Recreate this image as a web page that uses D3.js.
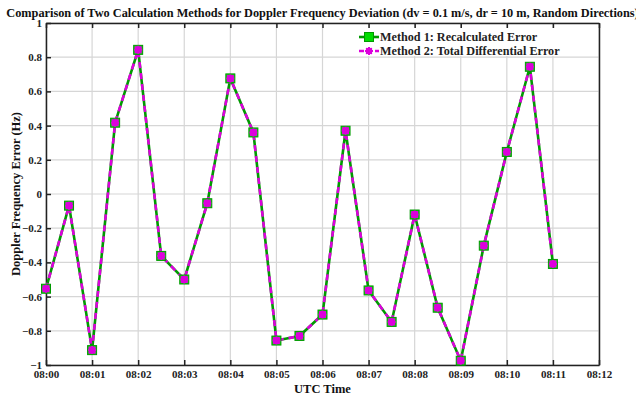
<!DOCTYPE html>
<html>
<head>
<meta charset="utf-8">
<script src="https://cdn.jsdelivr.net/npm/d3@7"></script>
<style>
  body { margin: 0; background: #fff; }
  text { font-family: "Liberation Serif", "Times New Roman", serif; font-weight: bold; }
</style>
</head>
<body>
<div id="chart"></div>
<script>
// ---- Data (seconds after 08:00, error in Hz)
const times = [0, 30, 60, 90, 120, 150, 180, 210, 240, 270, 300, 330, 360, 390, 420, 450, 480, 510, 540, 570, 600, 630, 660];
const method1 = [-0.554, -0.068, -0.913, 0.417, 0.843, -0.362, -0.50, -0.054, 0.676, 0.36, -0.857, -0.83, -0.705, 0.37, -0.564, -0.748, -0.12, -0.665, -0.975, -0.302, 0.246, 0.744, -0.409];
const method2 = method1.slice();
const xTicks = ['08:00', '08:01', '08:02', '08:03', '08:04', '08:05', '08:06', '08:07', '08:08', '08:09', '08:10', '08:11', '08:12'];
const yTicks = [-1, -0.8, -0.6, -0.4, -0.2, 0, 0.2, 0.4, 0.6, 0.8, 1];
const seriesNames = ['Method 1: Recalculated Error', 'Method 2: Total Differential Error'];

const W = 636, H = 395;
const margin = { left: 46, right: 37, top: 23, bottom: 30 };
const width = W - margin.left - margin.right;
const height = H - margin.top - margin.bottom;

const green = '#009900', greenFill = '#00dd00', magenta = '#dd00dd';

const svg = d3.select('#chart').append('svg').attr('width', W).attr('height', H);

const x = d3.scaleLinear().domain([0, 720]).range([0, width]);
const y = d3.scaleLinear().domain([-1, 1]).range([height, 0]);

const g = svg.append('g').attr('transform', `translate(${margin.left},${margin.top})`);

// ---- Grid
g.selectAll('.gx').data(d3.range(0, 721, 60)).join('line')
  .attr('x1', d => x(d)).attr('x2', d => x(d)).attr('y1', 0).attr('y2', height)
  .attr('stroke', '#d6d6d6').attr('stroke-width', 1.2);
g.selectAll('.gy').data(yTicks).join('line')
  .attr('y1', d => y(d)).attr('y2', d => y(d)).attr('x1', 0).attr('x2', width)
  .attr('stroke', '#d6d6d6').attr('stroke-width', 1.2);

// ---- Axes (ticks pointing inward)
const fmtY = d => d === 0 ? '0' : d3.format('')(d);
const xAxis = d3.axisBottom(x).tickValues(d3.range(0, 721, 60))
  .tickFormat((d, i) => xTicks[i]).tickSizeInner(-5).tickSizeOuter(0).tickPadding(5);
const yAxis = d3.axisLeft(y).tickValues(yTicks).tickFormat(fmtY)
  .tickSizeInner(-5).tickSizeOuter(0).tickPadding(4);

const gx = g.append('g').attr('transform', `translate(0,${height})`).call(xAxis);
const gy = g.append('g').call(yAxis);
const gxTop = g.append('g').call(d3.axisTop(x).tickValues(d3.range(0, 721, 60)).tickFormat('').tickSizeInner(-5).tickSizeOuter(0));
const gyRight = g.append('g').attr('transform', `translate(${width},0)`).call(d3.axisRight(y).tickValues(yTicks).tickFormat('').tickSizeInner(0).tickSizeOuter(0));

[gx, gy, gxTop, gyRight].forEach(a => {
  a.select('.domain').attr('stroke', '#222').attr('stroke-width', 1.5);
  a.selectAll('.tick line').attr('stroke', '#222').attr('stroke-width', 1.5);
  a.selectAll('.tick text').attr('fill', '#222').style('font-size', '11px')
    .style('font-family', '"Liberation Serif", serif').style('font-weight', 'bold');
});

// ---- Lines
const line = d3.line().x((d, i) => x(times[i])).y(d => y(d));
g.append('path').datum(method1).attr('d', line)
  .attr('fill', 'none').attr('stroke', green).attr('stroke-width', 2.6);
g.append('path').datum(method2).attr('d', line)
  .attr('fill', 'none').attr('stroke', magenta).attr('stroke-width', 2.6)
  .attr('stroke-dasharray', '6,5');

// ---- Markers
const star = (cx, cy, r) => {
  const a = r * 0.7;
  return `M${cx - r},${cy}L${cx + r},${cy}M${cx},${cy - r}L${cx},${cy + r}` +
    `M${cx - a},${cy - a}L${cx + a},${cy + a}M${cx - a},${cy + a}L${cx + a},${cy - a}`;
};
g.selectAll('.m1').data(method1).join('rect')
  .attr('x', (d, i) => x(times[i]) - 4.5).attr('y', d => y(d) - 4.5)
  .attr('width', 9).attr('height', 9)
  .attr('fill', greenFill).attr('stroke', green).attr('stroke-width', 1);
g.selectAll('.m2b').data(method2).join('rect')
  .attr('x', (d, i) => x(times[i]) - 3.5).attr('y', d => y(d) - 3.5)
  .attr('width', 7).attr('height', 7).attr('fill', magenta);
g.selectAll('.m2').data(method2).join('path')
  .attr('d', (d, i) => star(x(times[i]), y(d), 4))
  .attr('stroke', magenta).attr('stroke-width', 2).attr('fill', 'none');

// ---- Legend
const lg = svg.append('g').attr('transform', 'translate(356,28)');
lg.append('rect').attr('x', 0).attr('y', 0).attr('width', 210).attr('height', 28).attr('fill', '#fff');
seriesNames.forEach((name, i) => {
  const ly = 9 + i * 14;
  lg.append('line').attr('x1', 3).attr('x2', 23).attr('y1', ly).attr('y2', ly)
    .attr('stroke', i === 0 ? green : magenta).attr('stroke-width', 2.6)
    .attr('stroke-dasharray', i === 0 ? null : '5,3');
  if (i === 0) {
    lg.append('rect').attr('x', 8.5).attr('y', ly - 4.5).attr('width', 9).attr('height', 9)
      .attr('fill', greenFill).attr('stroke', green);
  } else {
    lg.append('path').attr('d', star(13, ly, 4)).attr('stroke', magenta).attr('stroke-width', 2);
    lg.append('rect').attr('x', 10).attr('y', ly - 3).attr('width', 6).attr('height', 6).attr('fill', magenta);
  }
  lg.append('text').attr('x', 24).attr('y', ly + 4).attr('fill', '#222')
    .style('font-size', '12.2px').text(name);
});

// ---- Title and axis labels
svg.append('text').attr('x', margin.left + width / 2).attr('y', 17)
  .attr('text-anchor', 'middle').attr('fill', '#111').style('font-size', '12.3px')
  .text('Comparison of Two Calculation Methods for Doppler Frequency Deviation (dv = 0.1 m/s, dr = 10 m, Random Directions)');
svg.append('text').attr('x', margin.left + width / 2).attr('y', 393)
  .attr('text-anchor', 'middle').attr('fill', '#111').style('font-size', '12.5px').text('UTC Time');
svg.append('text').attr('transform', `translate(20,${margin.top + height / 2}) rotate(-90)`)
  .attr('text-anchor', 'middle').attr('fill', '#111').style('font-size', '12.5px')
  .text('Doppler Frequency Error (Hz)');
</script>
</body>
</html>
